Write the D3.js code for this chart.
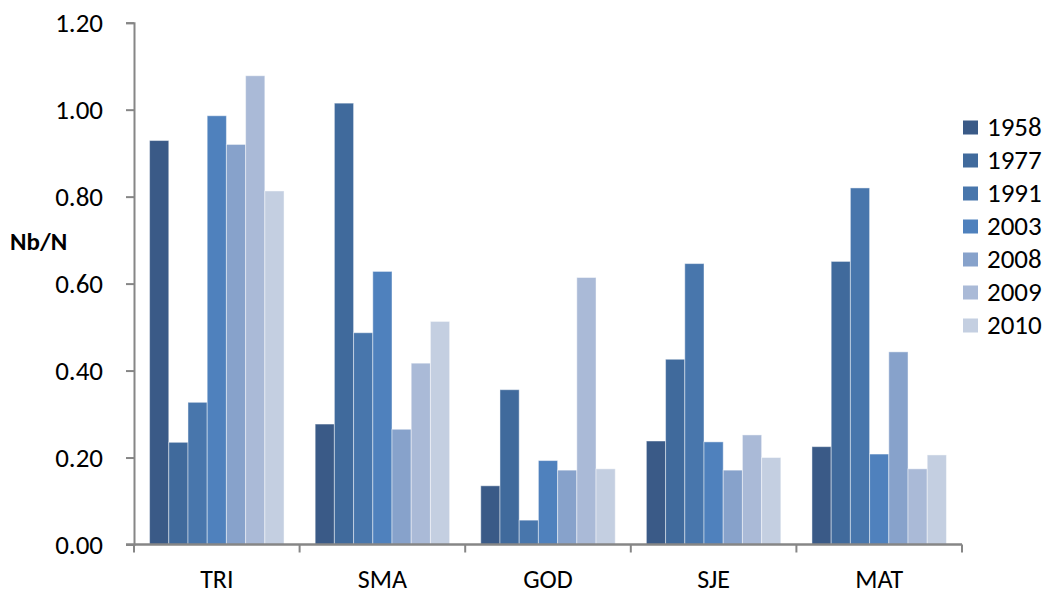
<!DOCTYPE html>
<html>
<head>
<meta charset="utf-8">
<script src="https://cdn.jsdelivr.net/npm/d3@7"></script>
<style>
  html, body { margin: 0; padding: 0; background: #ffffff; }
  svg { display: block; font-family: Carlito, Calibri, Lato, "Open Sans", sans-serif; }
</style>
</head>
<body>
<svg id="chart" width="1052" height="595"></svg>
<script>
// Sites along the x axis
const sites = ["TRI", "SMA", "GOD", "SJE", "MAT"];
// Survey years (one bar per year in each site group)
const years = ["1958", "1977", "1991", "2003", "2008", "2009", "2010"];
// Nb/N ratio per year, listed in site order
const v1958 = [0.929, 0.277, 0.135, 0.238, 0.225];
const v1977 = [0.235, 1.015, 0.356, 0.426, 0.651];
const v1991 = [0.327, 0.487, 0.056, 0.646, 0.820];
const v2003 = [0.986, 0.628, 0.193, 0.236, 0.208];
const v2008 = [0.920, 0.265, 0.171, 0.171, 0.443];
const v2009 = [1.078, 0.417, 0.614, 0.252, 0.174];
const v2010 = [0.813, 0.513, 0.174, 0.200, 0.206];
const yTicks = [0, 0.2, 0.4, 0.6, 0.8, 1.0, 1.2];
const yearColors = ["#3a5a87", "#406a9c", "#4876ac", "#4f81bd", "#87a2cb", "#aabad7", "#c4cfe1"];

const seriesValues = [v1958, v1977, v1991, v2003, v2008, v2009, v2010];
const series = years.map((yr, i) => ({ year: yr, color: yearColors[i], values: seriesValues[i] }));

const FONT = "Carlito, Calibri, Lato, 'Open Sans', sans-serif";
const svg = d3.select("#chart");
const plotLeft = 134, plotRight = 962, plotTop = 22.7, plotBottom = 544.5;

const x = d3.scaleBand().domain(sites).range([plotLeft, plotRight]).paddingInner(0).paddingOuter(0);
const gap = x.bandwidth() * 0.094;
const xInner = d3.scaleBand().domain(years).range([gap, x.bandwidth() - gap]).padding(0);
const y = d3.scaleLinear().domain([0, 1.2]).range([plotBottom, plotTop]);

// Bars
const groups = svg.append("g").selectAll("g")
  .data(sites)
  .join("g")
  .attr("transform", d => `translate(${x(d)},0)`);

groups.selectAll("rect")
  .data((site, si) => series.map(s => ({ year: s.year, color: s.color, value: s.values[si] })))
  .join("rect")
  .attr("x", d => xInner(d.year))
  .attr("y", d => y(d.value))
  .attr("width", xInner.bandwidth())
  .attr("height", d => y(0) - y(d.value))
  .attr("fill", d => d.color)
  .attr("stroke", "rgba(255,255,255,0.45)")
  .attr("stroke-width", 1);

// Y axis
const yAxis = d3.axisLeft(y)
  .tickValues(yTicks)
  .tickFormat(d3.format(".2f"))
  .tickSize(8)
  .tickPadding(23);

const gy = svg.append("g")
  .attr("transform", `translate(${plotLeft},0)`)
  .call(yAxis);
gy.select(".domain").attr("stroke", "#868686").attr("stroke-width", 2);
gy.selectAll(".tick line").attr("stroke", "#868686").attr("stroke-width", 2);
gy.selectAll(".tick text").attr("fill", "#000").style("font-size", "27px")
  .style("font-family", FONT);

// X axis: ticks sit on the category boundaries
const gx = svg.append("g");
gx.append("line")
  .attr("x1", plotLeft - 8).attr("x2", plotRight)
  .attr("y1", plotBottom).attr("y2", plotBottom)
  .attr("stroke", "#868686").attr("stroke-width", 2.5);
const boundaries = sites.map(s => x(s)).concat([x(sites[sites.length - 1]) + x.bandwidth()]);
gx.selectAll("line.bnd")
  .data(boundaries)
  .join("line")
  .attr("class", "bnd")
  .attr("x1", d => d).attr("x2", d => d)
  .attr("y1", plotBottom).attr("y2", plotBottom + 8)
  .attr("stroke", "#868686").attr("stroke-width", 2);
gx.selectAll("text")
  .data(sites)
  .join("text")
  .attr("x", d => x(d) + x.bandwidth() / 2)
  .attr("y", 588)
  .attr("text-anchor", "middle")
  .style("font-size", "26px")
  .attr("fill", "#000")
  .text(d => d);

// Y axis title
svg.append("text")
  .attr("x", 10)
  .attr("y", 250)
  .style("font-size", "25px")
  .style("font-weight", "bold")
  .attr("fill", "#000")
  .text("Nb/N");

// Legend
const legend = svg.append("g").selectAll("g")
  .data(series)
  .join("g")
  .attr("transform", (d, i) => `translate(963,${127.5 + i * 33})`);
legend.append("rect")
  .attr("x", 0).attr("y", -7)
  .attr("width", 15).attr("height", 14)
  .attr("fill", d => d.color);
legend.append("text")
  .attr("x", 24).attr("y", 8.5)
  .style("font-size", "27px")
  .attr("fill", "#000")
  .text(d => d.year);
</script>
</body>
</html>
